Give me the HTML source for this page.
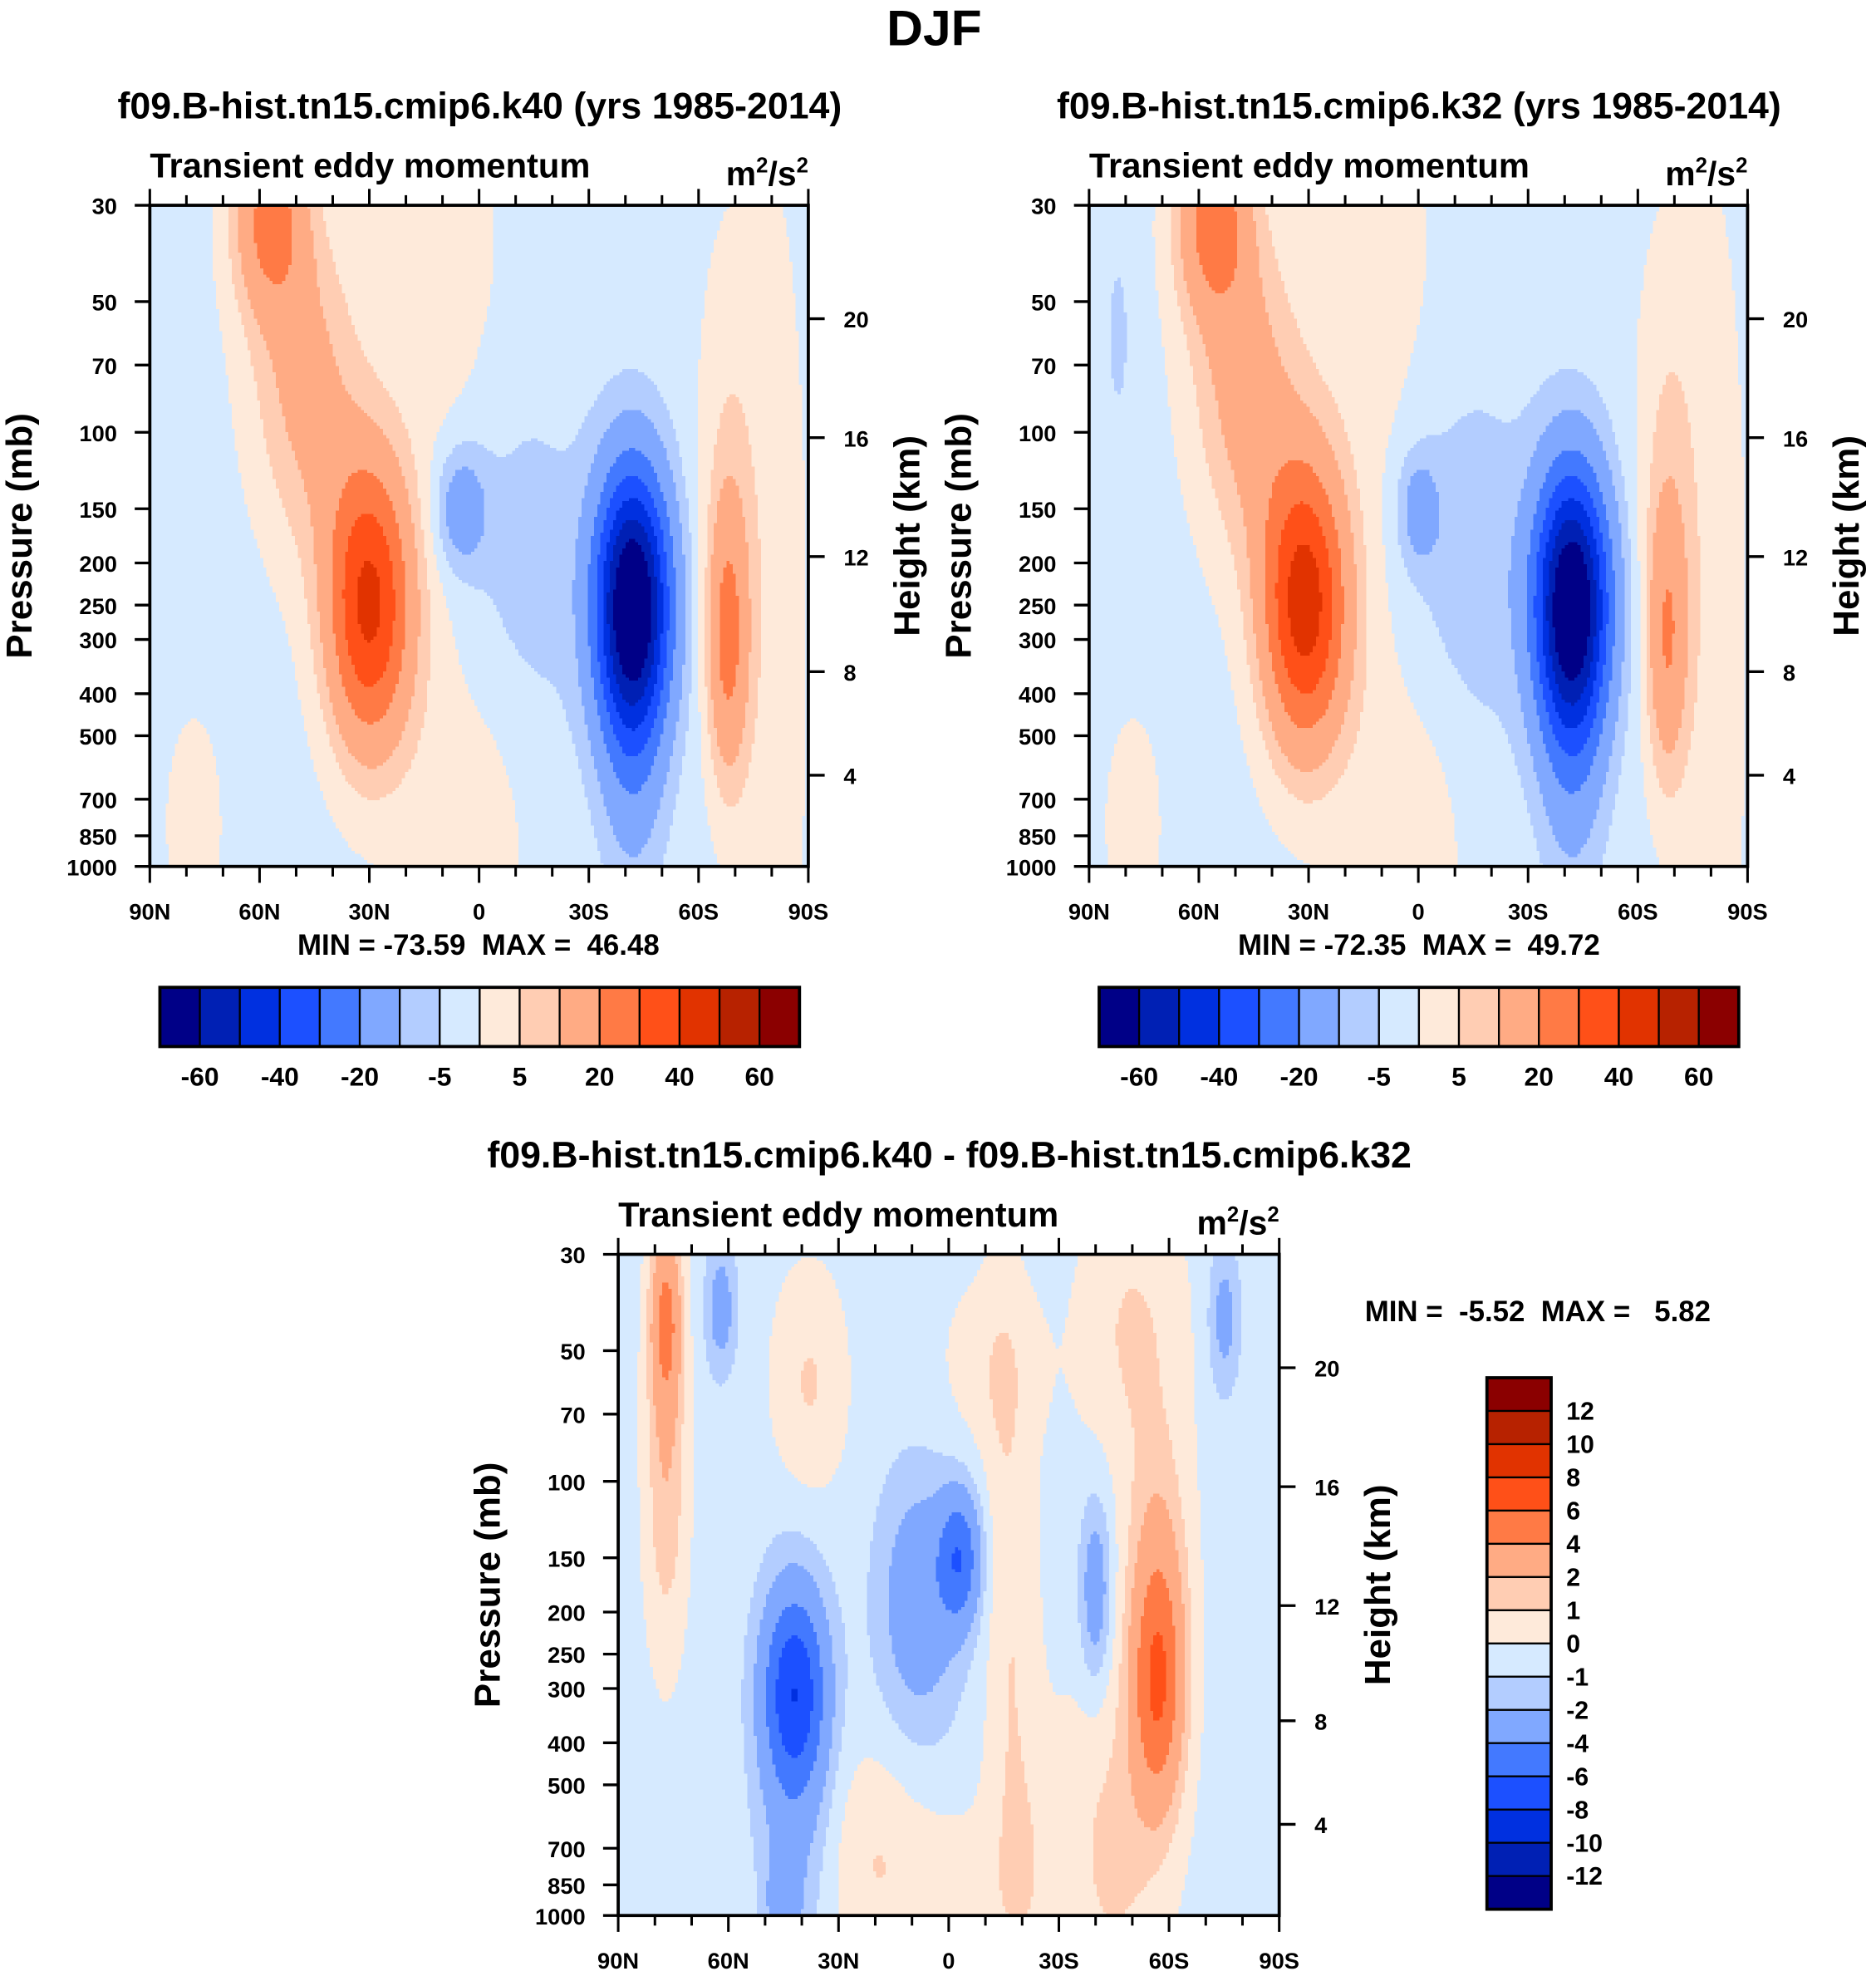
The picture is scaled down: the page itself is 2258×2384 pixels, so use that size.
<!DOCTYPE html>
<html><head><meta charset="utf-8">
<style>
html,body{margin:0;padding:0;background:#fff;}
svg{display:block;}
text{font-family:"Liberation Sans Narrow","Liberation Sans",Arial,sans-serif;font-weight:bold;fill:#000;white-space:pre;}
</style></head>
<body>
<svg id="fig" width="2258" height="2384" viewBox="0 0 1490 1573" preserveAspectRatio="none" xmlns="http://www.w3.org/2000/svg">
<text x="742" y="36" font-size="40" text-anchor="middle">DJF</text>
</svg>
<script>
// ---------- data ----------
const pressureTicks = [30,50,70,100,150,200,250,300,400,500,700,850,1000];
const heightTicks = [4,8,12,16,20];
const latTicks = [90,60,30,0,-30,-60,-90];
const latTickLabels = ["90N","60N","30N","0","30S","60S","90S"];
const levelsMain = [-60,-50,-40,-30,-20,-10,-5,0,5,10,20,30,40,50,60];
const labelsMain = ["-60","-40","-20","-5","5","20","40","60"];
const levelsDiff = [-12,-10,-8,-6,-4,-2,-1,0,1,2,4,6,8,10,12];
const colors = ["#000087","#0020b4","#0030e0","#1c50ff","#4379ff","#80a8ff","#b3cdff","#d6eaff","#feeada","#ffcdb3","#ffab84","#ff7a45","#ff5018","#e13300","#b72200","#8b0000"];

// field features: lat (N +), pressure (mb), amplitude, lat-width (deg), vertical width (fraction)
const p1Lat = [30,45,57,50,-42,-42,5,-10,-68,-68,78,10,-80,10,-5];
const p1P   = [250,100,32,60,250,600,150,200,300,100,800,600,300,50,700];
const p1Amp = [44,9,24,8,-73,-9,-14,-6,24,5,3.5,4,5,4,3];
const p1SLat= [8,10,7,10,7,6,5,14,4,6,7,10,7,14,8];
const p1SV  = [0.15,0.16,0.1,0.15,0.14,0.15,0.065,0.2,0.15,0.22,0.15,0.3,0.5,0.25,0.2];
const p1Base = -2;

const p2Lat = [31,45,56,50,-42,-42,0,-12,-68,-68,78,10,-80,12,-5,82];
const p2P   = [250,100,32,60,250,600,150,200,300,100,800,600,300,50,700,60];
const p2Amp = [47,10,25,8,-72,-9,-11,-7,20,6,3.5,4,5,4,3,-4];
const p2SLat= [8,10,7,10,7,6,4,14,4,6,7,10,7,14,8,3];
const p2SV  = [0.15,0.16,0.1,0.15,0.14,0.15,0.06,0.2,0.15,0.22,0.15,0.3,0.5,0.25,0.2,0.12];
const p2Base = -2;

const p3Lat = [77,77,62,42,42,-3,8,-40,-57,-57,20,-15,-45,-50,-75,45,-12,0,38,-18,-20];
const p3P   = [42,100,40,300,450,150,190,180,300,150,750,100,700,45,42,920,55,900,60,250,850];
const p3Amp = [4.5,2.2,-2.4,-5.6,-2.4,-4.8,-2.8,-2.8,5.8,2.0,1.4,0.6,1.6,1.5,-2.2,-2.3,1.0,1.0,1.5,1.0,1.1];
const p3SLat= [3,4,3,6,7,4,8,3,5,6,10,4,10,10,3,3,10,8,7,5,8];
const p3SV  = [0.1,0.18,0.07,0.1,0.2,0.07,0.14,0.1,0.13,0.15,0.12,0.3,0.2,0.15,0.08,0.04,0.1,0.08,0.12,0.25,0.15];
const p3Base = -0.4;

// ---------- helpers ----------
const NS="http://www.w3.org/2000/svg";
const svg=document.getElementById('fig');
function mk(tag,attrs,parent){const e=document.createElementNS(NS,tag);for(const k in attrs)e.setAttribute(k,attrs[k]);(parent||svg).appendChild(e);return e;}
const LP=Math.log(1000/30);
function vOf(p){return Math.log(p/30)/LP;}
function uOf(lat){return (90-lat)/180;}
function pOfZ(z){const m=z*1000;return m<=11000?1013.25*Math.pow(1-2.2558e-5*m,5.2559):226.32*Math.exp(-(m-11000)/6341.6);}
function colorIdx(val,levels){let i=0;while(i<levels.length&&val>=levels[i])i++;return i;}

function panel(cfg){
  const {x0,y0,w,h,lat,pr,amp,sl,sv,base,levels,name}=cfg;
  const g=mk('g',{});
  
  
  const fg=mk('g',{'shape-rendering':'crispEdges'},g);
  
  
  const cs=2.5, nx=Math.round(w/cs), ny=Math.round(h/cs);
  const fv=pr.map(vOf);
  for(let j=0;j<ny;j++){
    const v=(j+0.5)/ny;
    let runStart=0,runC=-1;
    for(let i=0;i<=nx;i++){
      let c=-2;
      if(i<nx){
        const u=(i+0.5)/nx, la=90-u*180;
        let val=base;
        for(let k=0;k<lat.length;k++){
          const dl=(la-lat[k])/sl[k], dv=(v-fv[k])/sv[k];
          val+=amp[k]*Math.exp(-0.5*(dl*dl+dv*dv));
        }
        c=colorIdx(val,levels);
      }
      if(c!==runC){
        if(runC>=0){
          mk('rect',{x:x0+runStart*w/nx,y:y0+j*h/ny,width:(i-runStart)*w/nx+0.3,height:h/ny+0.3,fill:colors[runC]},fg);
        }
        runStart=i;runC=c;
      }
    }
  }
  const fr=mk('rect',{x:x0,y:y0,width:w,height:h,fill:'none',stroke:'#000','stroke-width':2.5},g);
  
  
  pressureTicks.forEach(p=>{
    const y=y0+vOf(p)*h;
    mk('line',{x1:x0-12,x2:x0,y1:y,y2:y,stroke:'#000','stroke-width':2.2},g);
    const t=mk('text',{x:x0-26,y:y+7,'font-size':18,'text-anchor':'end'},g);
    t.textContent=p;
    
    
  });
  heightTicks.forEach(z=>{
    const y=y0+vOf(pOfZ(z))*h;
    mk('line',{x1:x0+w,x2:x0+w+13,y1:y,y2:y,stroke:'#000','stroke-width':2.2},g);
    const t=mk('text',{x:x0+w+28,y:y+7,'font-size':18},g);
    t.textContent=z;
    
    
  });
  for(let la=90;la>=-90;la-=10){
    const x=x0+uOf(la)*w, major=(la%30===0);
    const L=major?13:8;
    mk('line',{x1:x,x2:x,y1:y0+h,y2:y0+h+L,stroke:'#000','stroke-width':2},g);
    mk('line',{x1:x,x2:x,y1:y0,y2:y0-L,stroke:'#000','stroke-width':2},g);
  }
  latTicks.forEach((la,i)=>{
    const t=mk('text',{x:x0+uOf(la)*w,y:y0+h+42,'font-size':18,'text-anchor':'middle'},g);
    t.textContent=latTickLabels[i];
    
    
  });
  const yl=mk('text',{x:0,y:0,'font-size':29,'text-anchor':'middle',transform:`translate(${x0-94},${y0+h/2}) rotate(-90)`},g);
  yl.textContent='Pressure (mb)';
  
  
  const yr=mk('text',{x:0,y:0,'font-size':29,'text-anchor':'middle',transform:`translate(${x0+w+88},${y0+h/2}) rotate(-90)`},g);
  yr.textContent='Height (km)';
  
  
  const ls=mk('text',{x:x0,y:y0-22,'font-size':27.5},g);
  ls.textContent='Transient eddy momentum';
  
  
  const rs=mk('text',{x:x0+w,y:y0-16,'font-size':27,'text-anchor':'end'},g);
  rs.innerHTML='m<tspan dy="-10" font-size="17">2</tspan><tspan dy="10">/s</tspan><tspan dy="-10" font-size="17">2</tspan>';
  
  
  const tt=mk('text',{x:cfg.tx,y:cfg.ty,'font-size':29.5,'text-anchor':'middle'},g);
  tt.textContent=cfg.title;
  
  
  return g;
}

function hbar(x0,y0,w,h,minmaxX,minmaxY,txt){
  const g=mk('g',{});
  
  
  const bw=w/colors.length;
  colors.forEach((c,i)=>{
    const r=mk('rect',{x:x0+i*bw,y:y0,width:bw,height:h,fill:c,stroke:'#000','stroke-width':1.5},g);
    
    
  });
  mk('rect',{x:x0,y:y0,width:w,height:h,fill:'none',stroke:'#000','stroke-width':2.5},g);
  labelsMain.forEach((lab,i)=>{
    const k=2*i+1;
    const t=mk('text',{x:x0+k*bw,y:y0+h+31,'font-size':21,'text-anchor':'middle'},g);
    t.textContent=lab;
    
    
  });
  const m=mk('text',{x:minmaxX,y:minmaxY,'font-size':23,'text-anchor':'middle'},g);
  m.textContent=txt;
  
  
}

panel({x0:119,y0:163,w:523,h:525,lat:p1Lat,pr:p1P,amp:p1Amp,sl:p1SLat,sv:p1SV,base:p1Base,levels:levelsMain,name:'panel-k40',title:'f09.B-hist.tn15.cmip6.k40 (yrs 1985-2014)',tx:381,ty:94});
panel({x0:865,y0:163,w:523,h:525,lat:p2Lat,pr:p2P,amp:p2Amp,sl:p2SLat,sv:p2SV,base:p2Base,levels:levelsMain,name:'panel-k32',title:'f09.B-hist.tn15.cmip6.k32 (yrs 1985-2014)',tx:1127,ty:94});
panel({x0:491,y0:996,w:525,h:525,lat:p3Lat,pr:p3P,amp:p3Amp,sl:p3SLat,sv:p3SV,base:p3Base,levels:levelsDiff,name:'panel-difference',title:'f09.B-hist.tn15.cmip6.k40 - f09.B-hist.tn15.cmip6.k32',tx:754,ty:927});

hbar(127,784,508,47,380,758,'MIN = -73.59  MAX =  46.48');
hbar(873,784,508,47,1127,758,'MIN = -72.35  MAX =  49.72');

(function(){
  const g=mk('g',{});
  
  
  const x0=1181,y0=1094,w=51,h=422,bh=h/colors.length;
  colors.slice().reverse().forEach((c,i)=>{
    const r=mk('rect',{x:x0,y:y0+i*bh,width:w,height:bh,fill:c,stroke:'#000','stroke-width':1.5},g);
    
    
  });
  mk('rect',{x:x0,y:y0,width:w,height:h,fill:'none',stroke:'#000','stroke-width':2.5},g);
  levelsDiff.slice().reverse().forEach((lv,i)=>{
    const t=mk('text',{x:x0+w+12,y:y0+(i+1)*bh+7,'font-size':20},g);
    t.textContent=lv;
    
    
  });
  const m=mk('text',{x:1084,y:1049,'font-size':23},g);
  m.textContent='MIN =  -5.52  MAX =   5.82';
  
  
})();
</script>
</body></html>
